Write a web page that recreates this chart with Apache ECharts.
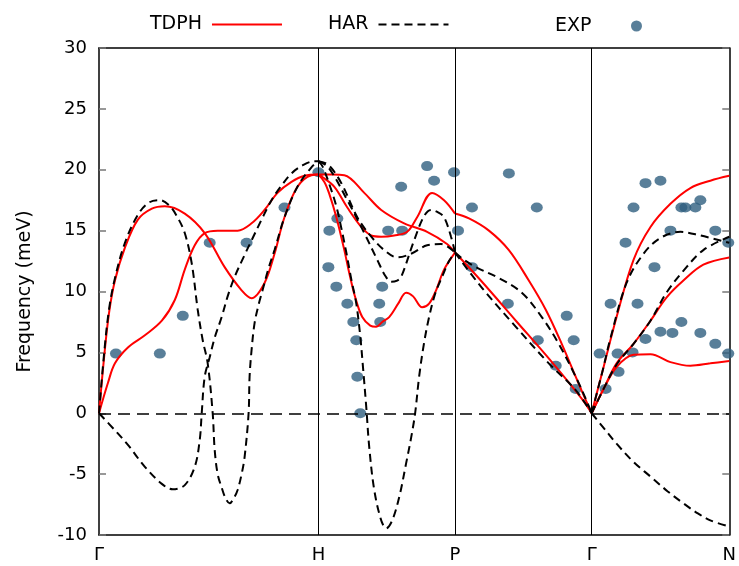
<!DOCTYPE html>
<html><head><meta charset="utf-8">
<script src="https://cdn.jsdelivr.net/npm/echarts@6/dist/echarts.min.js"></script>
<style>html,body{margin:0;padding:0;background:#fff}#c{width:739px;height:566px}</style>
</head><body><div id="c"></div>
<script>
// path coordinate of high-symmetry points and their labels
const kPointPos = [0, 220, 357, 494, 632];
const kPointLabels = ['Γ', 'H', 'P', 'Γ', 'N'];

// TDPH branches [path coordinate, meV]
const tdphGH1 = [[0,0],[5,4.5],[10,8.2],[16,10.9],[26,13.6],[39,15.9],[53,16.8],[66,17.0],[86,16.4],[106,14.8],[126,12.0],[143,10.1],[153,9.45],[166,10.7],[176,13.1],[186,16.1],[199,18.6],[213,19.55],[220,19.6]];
const tdphGH2 = [[0,0],[9,2.5],[16,4.1],[29,5.4],[46,6.4],[63,7.6],[76,9.3],[86,11.8],[96,13.8],[106,14.8],[119,15.0],[139,15.0],[153,15.6],[166,16.7],[179,18.1],[193,19.0],[206,19.5],[220,19.6]];
const tdphHP1 = [[220,19.6],[234,19.6],[246,19.55],[266,18.1],[283,16.7],[306,15.6],[329,14.9],[349,13.9],[357,13.2]];
const tdphHP2 = [[220,19.6],[224,19.4],[236,18.6],[249,16.9],[263,15.3],[273,14.6],[283,14.5],[296,14.6],[309,14.9],[319,16.1],[334,18.1],[346,17.5],[357,16.4]];
const tdphHP3 = [[220,19.6],[226,19.0],[231,18.0],[238,16.1],[246,13.4],[251,11.5],[257,9.5],[264,7.9],[272,7.2],[278,7.1],[284,7.5],[291,7.9],[300,9.0],[308,9.9],[315,9.6],[324,8.7],[331,9.0],[338,10.1],[346,11.8],[357,13.2]];
const tdphPG1 = [[357,16.4],[371,16.0],[391,15.0],[411,13.4],[431,10.9],[448,8.5],[464,5.7],[478,3.0],[488,1.1],[494,0]];
const tdphPG2 = [[357,13.2],[384,10.8],[418,7.6],[451,4.5],[484,1.2],[494,0]];
const tdphGN1 = [[494,0],[506,3.8],[519,7.9],[536,12.6],[553,15.3],[573,17.2],[593,18.5],[613,19.1],[632,19.5]];
const tdphGN2 = [[494,0],[506,2.0],[519,4.1],[536,5.7],[553,7.6],[569,9.5],[586,10.9],[606,12.2],[632,12.8]];
const tdphGN3 = [[494,0],[506,2.0],[519,3.8],[536,4.8],[553,4.85],[573,4.2],[593,3.9],[613,4.1],[632,4.3]];

// HAR branches
const harGH1 = [[0,0],[16,-1.4],[29,-2.6],[46,-4.4],[63,-5.8],[74,-6.25],[86,-5.9],[96,-4.4],[101,-2.2],[103,0],[106,3.0],[111,4.6],[116,6.2],[123,7.9],[129,9.6],[136,11.2],[146,13.0],[153,14.2],[163,15.9],[173,17.5],[183,18.7],[193,19.7],[205,20.4],[216,20.7],[220,20.7]];
const harGH2 = [[0,0],[5,4.8],[10,8.5],[16,11.1],[26,14.0],[39,16.3],[50,17.3],[61,17.5],[70,17.1],[78,16.2],[86,14.8],[93,12.3],[99,8.5],[104,6.0],[109,4.1],[114,0],[116,-3.0],[119,-5.0],[123,-6.1],[127,-7.0],[131,-7.4],[135,-7.0],[139,-6.3],[143,-5.0],[146,-3.6],[150,0],[151,3.0],[153,5.2],[156,7.4],[160,8.9],[164,10.1],[170,11.9],[176,13.4],[186,16.1],[199,18.6],[213,20.2],[220,20.7]];
const harHP1 = [[220,20.7],[230,20.4],[243,18.9],[259,16.1],[273,14.5],[286,13.4],[299,12.8],[313,13.1],[329,13.8],[343,13.9],[357,13.2]];
const harHP2 = [[220,20.7],[230,20.2],[249,17.5],[266,14.8],[279,12.6],[287,11.3],[293,10.8],[299,10.9],[303,11.2],[316,14.2],[326,16.2],[333,16.7],[340,16.5],[346,16.1],[353,14.5],[357,13.2]];
const harHP3 = [[220,20.7],[224,20.3],[231,18.8],[238,17.0],[243,15.2],[248,13.2],[253,11.0],[258,9.0],[262,6.3],[265,3.5],[268,0.5],[271,-2.8],[276,-6.3],[283,-8.8],[288,-9.45],[294,-8.8],[301,-6.9],[308,-4.1],[313,-2.0],[317,0],[321,3.0],[326,5.8],[331,7.9],[337,9.8],[344,11.2],[351,12.5],[357,13.2]];
const harPG1 = [[357,13.2],[366,12.6],[378,12.0],[401,11.1],[424,9.9],[444,7.9],[461,5.7],[478,3.0],[488,1.2],[494,0]];
const harPG2 = [[357,13.2],[384,10.3],[418,7.1],[451,4.1],[478,1.9],[494,0]];
const harGN1 = [[494,0],[505,3.5],[513,6.2],[529,10.7],[546,13.1],[563,14.4],[583,14.9],[603,14.6],[632,14.0]];
const harGN2 = [[494,0],[506,2.0],[519,4.0],[536,5.7],[553,7.6],[569,9.9],[586,11.7],[606,13.4],[632,14.5]];
const harGN3 = [[494,0],[507,-1.3],[519,-2.5],[536,-4.0],[553,-5.2],[570,-6.4],[586,-7.4],[600,-8.2],[613,-8.8],[632,-9.3]];

// Experimental points
const expGH = [[17,4.9],[61,4.9],[84,8.0],[111,14.0],[148,14.0],[186,16.9],[220,19.8]];
const expHP = [[231,15.0],[230,12.0],[239,16.0],[238,10.4],[249,9.0],[255,7.5],[258,6.0],[259,3.0],[262,0],[281,9.0],[282,7.5],[284,10.4],[290,15.0],[304,15.0],[303,18.6],[329,20.3],[336,19.1],[356,19.8],[360,15.0]];
const expPG = [[374,16.9],[374,12.0],[411,19.7],[439,16.9],[410,9.0],[469,8.0],[440,6.0],[476,6.0],[458,3.9],[478,2.0]];
const expGN = [[502,4.9],[520,4.9],[535,5.0],[508,2.0],[521,3.4],[513,9.0],[528,14.0],[536,16.9],[548,18.9],[563,19.1],[540,9.0],[548,6.1],[557,12.0],[563,6.7],[573,15.0],[575,6.6],[584,7.5],[584,16.9],[588,16.9],[598,16.9],[603,17.5],[603,6.6],[618,15.0],[618,5.7],[631,14.0],[631,4.9]];

const tdphCurves = [tdphGH1, tdphGH2, tdphHP1, tdphHP2, tdphHP3, tdphPG1, tdphPG2, tdphGN1, tdphGN2, tdphGN3];
const harCurves = [harGH1, harGH2, harHP1, harHP2, harHP3, harPG1, harPG2, harGN1, harGN2, harGN3];
const expPoints = [].concat(expGH, expHP, expPG, expGN);

const FONT = 'DejaVu Sans';
const series = [];
series.push({
  type: 'line', data: [[0, 0]], symbol: 'none', lineStyle: { width: 0 }, silent: true,
  markLine: {
    silent: true, symbol: ['none', 'none'], label: { show: false },
    data: [
      { xAxis: kPointPos[1], lineStyle: { color: '#000', width: 1, type: 'solid' } },
      { xAxis: kPointPos[2], lineStyle: { color: '#000', width: 1, type: 'solid' } },
      { xAxis: kPointPos[3], lineStyle: { color: '#000', width: 1, type: 'solid' } },
      { yAxis: 0, lineStyle: { color: '#000', width: 1.6, type: [12, 7] } }
    ]
  }
});
tdphCurves.forEach(c => series.push({
  name: 'TDPH', type: 'line', data: c, smooth: 0.35, symbol: 'none',
  lineStyle: { color: '#ff0000', width: 2 }, itemStyle: { color: '#ff0000' }
}));
harCurves.forEach(c => series.push({
  name: 'HAR', type: 'line', data: c, smooth: 0.35, symbol: 'none',
  lineStyle: { color: '#000', width: 2, type: [8, 5] }, itemStyle: { color: '#000' }
}));
series.push({
  name: 'EXP', type: 'scatter', data: expPoints, symbol: 'circle', symbolSize: [12, 10],
  itemStyle: { color: '#2f5f80' }
});

const legendBase = {
  orient: 'horizontal', align: 'right', padding: 0, itemWidth: 70, itemHeight: 14,
  textStyle: { fontFamily: FONT, fontSize: 19, color: '#000', padding: [0, 5, 0, 0] },
  selectedMode: false
};

const chart = echarts.init(document.getElementById('c'), null, { renderer: 'canvas' });
chart.setOption({
  animation: false,
  backgroundColor: '#fff',
  grid: { left: 99, right: 8, top: 48, bottom: 31, containLabel: false },
  legend: [
    Object.assign({}, legendBase, { data: ['TDPH'], left: 150, top: 15, itemStyle: { opacity: 0 } }),
    Object.assign({}, legendBase, { data: ['HAR'], left: 328, top: 15, itemStyle: { opacity: 0 } }),
    Object.assign({}, legendBase, { data: ['EXP'], left: 555, top: 16.5, itemHeight: 11 })
  ],
  xAxis: [{
    type: 'value', min: kPointPos[0], max: kPointPos[4],
    axisLine: { show: true, onZero: false, lineStyle: { color: '#000', width: 1.5 } },
    axisTick: { show: false }, splitLine: { show: false },
    axisLabel: {
      customValues: kPointPos, margin: 11,
      formatter: v => kPointLabels[kPointPos.indexOf(v)] || '',
      fontFamily: FONT, fontSize: 18, color: '#000'
    }
  }, {
    type: 'value', position: 'top', min: kPointPos[0], max: kPointPos[4],
    axisLine: { show: true, onZero: false, lineStyle: { color: '#000', width: 1.5 } },
    axisTick: { show: false }, axisLabel: { show: false }, splitLine: { show: false }
  }],
  yAxis: [{
    type: 'value', min: -10, max: 30, interval: 5,
    name: 'Frequency (meV)', nameLocation: 'middle', nameGap: 64, nameRotate: 90,
    nameTextStyle: { fontFamily: FONT, fontSize: 19, color: '#000' },
    axisLine: { show: true, onZero: false, lineStyle: { color: '#000', width: 1.5 } },
    axisTick: { show: true, inside: true, length: 7, lineStyle: { color: '#777', width: 1.5 } },
    axisLabel: { fontFamily: FONT, fontSize: 18, color: '#000', margin: 12 },
    splitLine: { show: false }
  }, {
    type: 'value', position: 'right', min: -10, max: 30, interval: 5,
    axisLine: { show: true, onZero: false, lineStyle: { color: '#000', width: 1.5 } },
    axisTick: { show: true, inside: true, length: 7, lineStyle: { color: '#777', width: 1.5 } },
    axisLabel: { show: false }, splitLine: { show: false }
  }],
  series: series
});
</script>
</body></html>
